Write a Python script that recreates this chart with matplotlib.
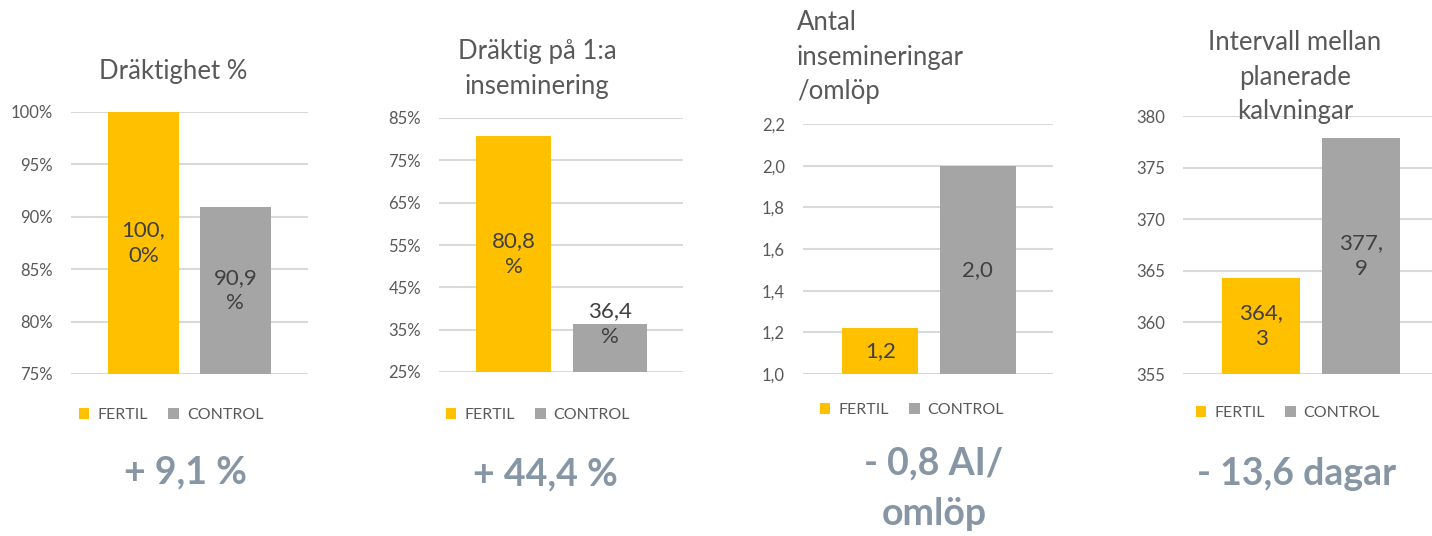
import matplotlib
matplotlib.use('Agg')
import matplotlib.pyplot as plt
from matplotlib.patches import Patch

plt.rcParams['font.family'] = ['Lato', 'DejaVu Sans']

W, H = 1432, 536

series = ['FERTIL', 'CONTROL']
colors = ['#FFC000', '#A5A5A5']

draktighet = [1.000, 0.909]
draktig_1a = [0.808, 0.364]
ins_per_omlopp = [1.22, 2.00]
intervall = [364.3, 377.9]

ticks_1 = [0.75, 0.80, 0.85, 0.90, 0.95, 1.00]
ticks_2 = [0.25, 0.35, 0.45, 0.55, 0.65, 0.75, 0.85]
ticks_3 = [1.0, 1.2, 1.4, 1.6, 1.8, 2.0, 2.2]
ticks_4 = [355, 360, 365, 370, 375, 380]

ticklabels_1 = ['75%', '80%', '85%', '90%', '95%', '100%']
ticklabels_2 = ['25%', '35%', '45%', '55%', '65%', '75%', '85%']
ticklabels_3 = ['1,0', '1,2', '1,4', '1,6', '1,8', '2,0', '2,2']
ticklabels_4 = ['355', '360', '365', '370', '375', '380']

barlabels_1 = ['100,\n0%', '90,9\n%']
barlabels_2 = ['80,8\n%', '36,4\n%']
barlabels_3 = ['1,2', '2,0']
barlabels_4 = ['364,\n3', '377,\n9']

diff_texts = ['+ 9,1 %', '+ 44,4 %', '- 0,8 AI/\nomlöp', '- 13,6 dagar']

panels = [
    # values, ticks, ticklabels, barlabels, title
    (draktighet, ticks_1, ticklabels_1, barlabels_1, 'Dräktighet %'),
    (draktig_1a, ticks_2, ticklabels_2, barlabels_2, 'Dräktig på 1:a\ninseminering'),
    (ins_per_omlopp, ticks_3, ticklabels_3, barlabels_3, 'Antal\ninsemineringar\n/omlöp'),
    (intervall, ticks_4, ticklabels_4, barlabels_4, 'Intervall mellan\nplanerade\nkalvningar'),
]

# layout in pixels: (x0, x1, ytop, ybottom), xlim
boxes = [(71, 308, 112, 374), (439, 683, 118, 372), (803, 1053, 124, 374), (1183, 1432, 116, 374)]
xlims = [(-0.79, 1.79), (-0.78, 1.76), (-0.79, 1.77), (-0.78, 1.71)]
title_pos = [(173, 72, 'center'), (537, 69, 'center'), (797, 57, 'left'), (1295, 77, 'center')]
legend_pos = [(171, 415), (538, 415), (912, 410), (1288, 413)]
diff_pos = [(185, 472), (545, 474), (934, 489), (1297, 474)]
label_shift = [[0, 0], [0, 17], [0, 0], [0, 0]]


def fx(px):
    return px / W


def fy(py):
    return 1 - py / H


fig = plt.figure(figsize=(W / 100, H / 100), dpi=100)

for i, (vals, ticks, tlabels, blabels, title) in enumerate(panels):
    x0, x1, yt, yb = boxes[i]
    ax = fig.add_axes([fx(x0), fy(yb), fx(x1 - x0), (yb - yt) / H])
    ax.bar([0, 1], vals, width=0.78, color=colors, bottom=0, zorder=2)
    ax.set_ylim(ticks[0], ticks[-1])
    ax.set_xlim(*xlims[i])
    ax.set_yticks(ticks)
    ax.set_yticklabels(tlabels)
    ax.set_xticks([])
    ax.tick_params(axis='y', length=0, pad=13, labelsize=12, labelcolor='#595959')
    ax.grid(axis='y', color='#D9D9D9', linewidth=1.5, zorder=0)
    for s in ax.spines.values():
        s.set_visible(False)
    ax.patch.set_alpha(0)

    for j, v in enumerate(vals):
        yc = (ticks[0] + v) / 2
        ax.annotate(blabels[j], (j, yc), xytext=(0, label_shift[i][j]),
                    textcoords='offset points', ha='center', va='center',
                    fontsize=16, color='#404040', linespacing=1.35, zorder=3)

    tx, ty, ha = title_pos[i]
    fig.text(fx(tx), fy(ty), title, ha=ha, va='center', fontsize=18.5,
             color='#595959', linespacing=1.5)

    handles = [Patch(facecolor=c, edgecolor='none') for c in colors]
    lx, ly = legend_pos[i]
    ax.legend(handles, series, loc='center', bbox_to_anchor=(fx(lx), fy(ly)),
              bbox_transform=fig.transFigure, ncol=2, frameon=False,
              fontsize=11.5, labelcolor='#595959', handlelength=0.65,
              handleheight=0.65, handletextpad=0.5, columnspacing=1.3)

    dx, dy = diff_pos[i]
    fig.text(fx(dx), fy(dy), diff_texts[i], ha='center', va='center',
             fontsize=27, fontweight='bold', color='#8796A4', linespacing=1.6)

fig.savefig('out.png', dpi=100)
